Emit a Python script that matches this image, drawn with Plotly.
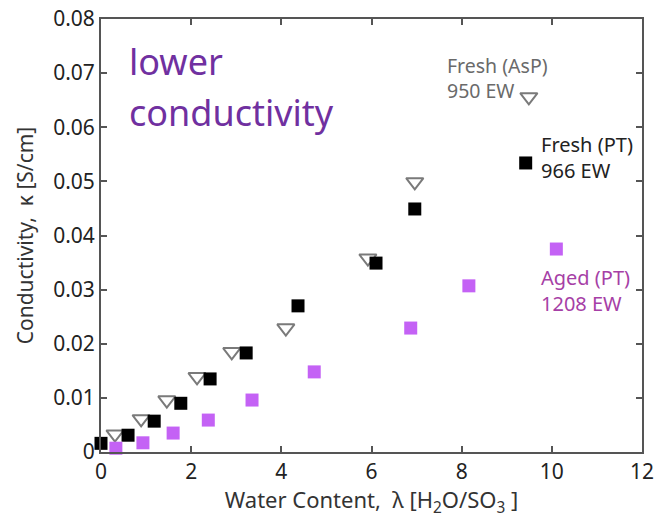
import plotly.graph_objects as go

# Fresh (AsP) 950 EW - open down triangles
asp_x = [0.31, 0.89, 1.46, 2.13, 2.90, 4.10, 5.92, 6.96, 9.49]
asp_y = [0.0033, 0.0061, 0.0096, 0.0139, 0.0185, 0.0229, 0.0358, 0.0499, 0.0656]

# Fresh (PT) 966 EW - black squares
fpt_x = [0.00, 0.60, 1.18, 1.77, 2.42, 3.22, 4.37, 6.10, 6.96, 9.42]
fpt_y = [0.0016, 0.0031, 0.0057, 0.0090, 0.0135, 0.0183, 0.0270, 0.0349, 0.0449, 0.0534]

# Aged (PT) 1208 EW - purple squares
apt_x = [0.33, 0.93, 1.60, 2.38, 3.35, 4.73, 6.87, 8.16, 10.10]
apt_y = [0.0007, 0.0017, 0.0035, 0.0059, 0.0096, 0.0148, 0.0229, 0.0307, 0.0375]

x_ticks = [0, 2, 4, 6, 8, 10, 12]
y_ticks = [0, 0.01, 0.02, 0.03, 0.04, 0.05, 0.06, 0.07, 0.08]
y_labels = ["0", "0.01", "0.02", "0.03", "0.04", "0.05", "0.06", "0.07", "0.08"]

FONT = "Noto Sans"

fig = go.Figure()
fig.add_trace(go.Scatter(x=asp_x, y=asp_y, mode="markers", cliponaxis=False,
                         marker=dict(symbol="triangle-down", size=15, color="white",
                                     line=dict(color="#7a7a7a", width=2))))
fig.add_trace(go.Scatter(x=fpt_x, y=fpt_y, mode="markers", cliponaxis=False,
                         marker=dict(symbol="square", size=13, color="black",
                                     line=dict(width=0))))
fig.add_trace(go.Scatter(x=apt_x, y=apt_y, mode="markers", cliponaxis=False,
                         marker=dict(symbol="square", size=13, color="#c462f5",
                                     line=dict(width=0))))

ann = [
    dict(x=0.58, y=0.0722, text="lower", color="#7030a0", size=36),
    dict(x=0.58, y=0.0628, text="conductivity", color="#7030a0", size=36),
    dict(x=7.62, y=0.0715, text="Fresh (AsP)", color="#6a6a6a", size=19.5),
    dict(x=7.62, y=0.0667, text="950 EW", color="#6a6a6a", size=19.5),
    dict(x=9.72, y=0.0569, text="Fresh (PT)", color="#222222", size=20),
    dict(x=9.72, y=0.0520, text="966 EW", color="#222222", size=20),
    dict(x=9.72, y=0.0322, text="Aged (PT)", color="#a63fa6", size=20),
    dict(x=9.72, y=0.0274, text="1208 EW", color="#a63fa6", size=20),
]
for a in ann:
    fig.add_annotation(x=a["x"], y=a["y"], xref="x", yref="y", text=a["text"],
                       showarrow=False, xanchor="left", yanchor="middle",
                       font=dict(family=FONT, size=a["size"], color=a["color"]))

axis_common = dict(showgrid=False, zeroline=False, showline=True, linecolor="#555555",
                   linewidth=2, mirror="ticks", ticks="inside", ticklen=6,
                   tickwidth=1.5, tickcolor="#555555", automargin=False,
                   tickfont=dict(family=FONT, size=21, color="#222222"))

fig.update_layout(
    width=658, height=518, showlegend=False,
    paper_bgcolor="white", plot_bgcolor="white",
    margin=dict(l=101, r=16, t=19, b=66),
    xaxis=dict(range=[0, 12], tickvals=x_ticks, ticktext=[str(v) for v in x_ticks],
               title=dict(text="Water Content,  λ [H<sub>2</sub>O/SO<sub>3</sub> ]",
                          font=dict(family=FONT, size=22, color="#333333"), standoff=4),
               **axis_common),
    yaxis=dict(range=[0, 0.08], tickvals=y_ticks, ticktext=y_labels,
               title=dict(text="Conductivity,  κ [S/cm]",
                          font=dict(family=FONT, size=21, color="#333333"), standoff=14),
               **axis_common),
)

fig.write_html("out.html")
